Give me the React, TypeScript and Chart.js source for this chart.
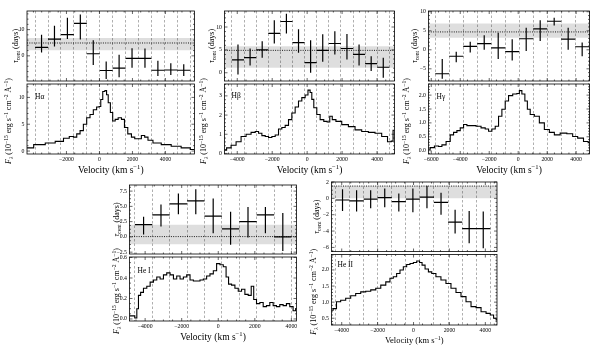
import React, { useEffect, useRef } from 'react';
import { Chart, registerables } from 'chart.js';

Chart.register(...registerables);

const SERIF = '"Liberation Serif", "DejaVu Serif", serif';
const CW = 600;
const CH = 352;

// ======================= DATA =======================
// velocity tick labels (km/s)
const velTicksHa = [-2000, 0, 2000, 4000];
const velTicksStd = [-4000, -2000, 0, 2000, 4000];
const velTicksHg = [-6000, -4000, -2000, 0, 2000, 4000];

// ---- H alpha ----
const haBinEdges = [-3900, -3117, -2333, -1550, -767, 17, 800, 1583, 2367, 3150, 3933, 4717, 5500];
const haLag = [3.2, 6.4, 8.1, 12.4, 0.8, -5.6, -4.7, -1.0, -1.0, -5.5, -5.4, -5.5];
const haLagUpper = [8.0, 11.5, 14.5, 15.8, 5.9, -2.2, 0.4, 2.9, 2.8, -1.9, -2.8, -3.2];
const haLagLower = [1.3, 3.6, 6.4, 6.2, -3.5, -8.8, -8.2, -4.5, -4.5, -7.7, -7.3, -7.7];
const haMeanLag = [2.1, 4.9, 6.8]; // lower, value, upper
const haLagTicks = [0, 10];
const haVel = [-4386, -3584, -2982, -2380, -1978, -1677, -1476, -1275, -1074, -873, -672, -472, -271, -70, 30, 130, 271, 392, 472, 592, 733, 873, 1034, 1235, 1436, 1596, 1837, 2038, 2239, 2440, 2640, 2841, 3042, 3444, 4046, 4649, 5251, 5753];
const haFlux = [0.6, 1.2, 1.5, 1.8, 2.4, 2.7, 2.6, 3.2, 3.8, 5.0, 6.2, 6.8, 7.7, 8.2, 8.3, 9.6, 11.1, 11.3, 10.5, 9.0, 7.2, 5.6, 5.9, 6.2, 5.9, 4.4, 3.2, 2.6, 2.3, 2.3, 2.9, 2.6, 2.0, 1.5, 1.2, 0.9, 0.6, 0.3];
const haFluxTicks = [0, 5, 10];

// ---- H beta ----
const hbBinEdges = [-4305, -3612, -2919, -2226, -1533, -840, -147, 546, 1239, 1932, 2625, 3318, 4011, 4704];
const hbLag = [2.8, 3.3, 5.0, 8.6, 11.2, 6.6, 2.2, 4.9, 6.4, 5.3, 4.0, 2.0, 1.2];
const hbLagUpper = [6.2, 5.3, 6.9, 11.5, 12.9, 9.5, 7.1, 8.4, 9.1, 8.5, 6.2, 3.6, 3.3];
const hbLagLower = [-0.4, 1.6, 3.3, 6.4, 8.6, 4.4, 0.0, 2.4, 4.0, 2.9, 1.6, 0.4, -1.1];
const hbMeanLag = [1.1, 4.9, 5.8];
const hbLagTicks = [0, 5, 10];
const hbVel = [-4724, -4495, -4210, -3924, -3638, -3352, -3067, -2876, -2686, -2495, -2305, -2114, -1924, -1733, -1543, -1352, -1162, -971, -781, -590, -400, -210, -19, 114, 229, 305, 457, 648, 838, 1067, 1219, 1371, 1505, 1790, 2171, 2552, 2933, 3314, 3695, 4076, 4457, 4743, 4876, 4960];
const hbFlux = [0.17, 0.29, 0.43, 0.61, 0.88, 1.0, 1.1, 1.14, 1.05, 0.93, 0.88, 0.83, 0.88, 0.96, 1.27, 1.35, 1.46, 1.76, 2.11, 2.42, 2.73, 2.91, 3.05, 3.3, 3.18, 2.82, 2.38, 2.03, 1.76, 1.67, 1.64, 1.94, 1.76, 1.67, 1.5, 1.4, 1.23, 1.14, 1.1, 1.05, 0.88, 0.61, 0.64, 1.2];
const hbFluxTicks = [0, 1, 2, 3];

// ---- H gamma ----
const hgBinEdges = [-5724, -4759, -3793, -2828, -1862, -897, 69, 1035, 2000, 2966, 3931, 4897];
const hgLag = [-6.3, -1.7, 0.9, 1.6, 0.5, -0.5, 2.9, 5.5, 7.5, 2.8, 0.8];
const hgLagUpper = [-2.4, -0.5, 2.1, 3.8, 4.5, 2.8, 5.8, 7.8, 8.4, 5.8, 1.9];
const hgLagLower = [-7.6, -3.3, -0.7, 0.0, -2.4, -2.8, -0.3, 2.3, 6.4, 0.0, -1.7];
const hgMeanLag = [3.2, 4.7, 6.9];
const hgLagTicks = [-5, 0, 5, 10];
const hgVel = [-6184, -5954, -5609, -5379, -5149, -4805, -4575, -4345, -4115, -3885, -3655, -3425, -3080, -2736, -2391, -2161, -1931, -1701, -1471, -1241, -1011, -782, -552, -207, 23, 138, 368, 552, 713, 943, 1287, 1632, 1977, 2322, 2667, 3126, 3586, 3931, 4276, 4736, 4920];
const hgFlux = [0.05, 0.11, 0.17, 0.15, 0.21, 0.33, 0.57, 0.66, 0.72, 0.82, 0.94, 0.9, 0.9, 0.88, 0.82, 0.78, 0.70, 0.78, 0.88, 1.24, 1.49, 1.79, 1.98, 2.04, 2.06, 2.16, 2.04, 1.79, 1.49, 1.30, 1.24, 1.0, 0.76, 0.66, 0.57, 0.63, 0.61, 0.51, 0.45, 0.33, 0.29];
const hgFluxTicks = [0, 0.5, 1.0, 1.5, 2.0];

// ---- He I ----
const he1BinEdges = [-4561, -3609, -2657, -1705, -753, 199, 1151, 2103, 3055, 4007];
const he1Lag = [2.0, 3.6, 5.4, 5.9, 3.4, 1.3, 2.5, 3.6, 0.0];
const he1LagUpper = [3.3, 5.3, 7.1, 7.8, 6.3, 4.1, 4.9, 4.9, 3.9];
const he1LagLower = [0.4, 1.7, 3.7, 3.7, 0.6, -1.3, -0.1, 0.6, -2.3];
const he1MeanLag = [-1.2, 0.05, 2.0];
const he1LagTicks = [-2.5, 0, 2.5, 5, 7.5];
const he1Vel = [-4855, -4637, -4490, -4419, -4310, -4183, -3999, -3819, -3633, -3453, -3273, -3088, -2908, -2728, -2542, -2362, -2182, -1997, -1817, -1637, -1451, -1271, -1091, -906, -726, -546, -360, -180, 0, 185, 366, 491, 638, 818, 1004, 1184, 1364, 1549, 1729, 1877, 2002, 2182, 2368, 2548, 2728, 2913, 3093, 3273, 3459, 3639, 3819, 4004, 4184, 4277];
const he1Flux = [0.03, 0.03, 0.01, 0.1, 0.23, 0.26, 0.3, 0.32, 0.36, 0.38, 0.41, 0.39, 0.43, 0.45, 0.43, 0.39, 0.42, 0.39, 0.41, 0.43, 0.38, 0.37, 0.37, 0.38, 0.39, 0.42, 0.44, 0.47, 0.54, 0.53, 0.51, 0.41, 0.34, 0.33, 0.3, 0.27, 0.29, 0.24, 0.23, 0.32, 0.19, 0.15, 0.16, 0.12, 0.13, 0.16, 0.13, 0.12, 0.14, 0.13, 0.15, 0.12, 0.08, 0.1];
const he1FluxTicks = [0, 0.2, 0.4, 0.6];

// ---- He II ----
const he2BinEdges = [-4348, -3564, -2780, -1996, -1212, -428, 356, 1140, 1924, 2708, 3492, 4276];
const he2Lag = [-0.2, -0.3, -0.1, 0.1, -0.4, -0.1, 0.15, -0.5, -2.9, -3.7, -3.7];
const he2LagUpper = [1.1, 1.0, 1.0, 1.2, 0.6, 1.2, 1.55, 0.7, -1.4, -1.55, -1.6];
const he2LagLower = [-1.55, -1.6, -1.2, -1.1, -1.6, -1.7, -1.2, -2.0, -4.3, -5.5, -6.1];
const he2MeanLag = [0.0, 1.5, 1.55];
const he2LagTicks = [-6, -4, -2, 0, 2];
const he2Vel = [-4572, -4385, -4199, -3920, -3641, -3362, -3082, -2803, -2524, -2244, -1965, -1686, -1406, -1220, -1034, -848, -661, -475, -289, -103, 84, 270, 400, 549, 736, 922, 1108, 1387, 1667, 1946, 2225, 2505, 2784, 3063, 3343, 3622, 3901, 4181, 4367, 4553, 4650];
const he2Flux = [0.75, 0.8, 1.01, 1.06, 1.12, 1.2, 1.27, 1.32, 1.34, 1.38, 1.43, 1.53, 1.63, 1.74, 1.79, 1.89, 2.0, 2.1, 2.17, 2.2, 2.23, 2.28, 2.23, 2.15, 2.03, 1.94, 1.89, 1.79, 1.69, 1.58, 1.43, 1.3, 1.17, 1.01, 0.86, 0.83, 0.7, 0.65, 0.6, 0.5, 0.45];
const he2FluxTicks = [0.5, 1.0, 1.5, 2.0];

// ======================= LINE DEFINITIONS =======================
const LINES = [
  { name: 'H\u03B1', velRange: [-4390, 5760], velTicks: velTicksHa, edges: haBinEdges, lag: haLag, lagUp: haLagUpper, lagLo: haLagLower, mean: haMeanLag, lagRange: [-9.6, 17.1], lagTicks: haLagTicks, lagMinor: 2, lagDec: 0, vel: haVel, flux: haFlux, fluxRange: [-0.55, 12.5], fluxTicks: haFluxTicks, fluxMinor: 1, fluxDec: 0 },
  { name: 'H\u03B2', velRange: [-4730, 5000], velTicks: velTicksStd, edges: hbBinEdges, lag: hbLag, lagUp: hbLagUpper, lagLo: hbLagLower, mean: hbMeanLag, lagRange: [-1.8, 13.5], lagTicks: hbLagTicks, lagMinor: 1, lagDec: 0, vel: hbVel, flux: hbFlux, fluxRange: [-0.03, 3.62], fluxTicks: hbFluxTicks, fluxMinor: 0.2, fluxDec: 0 },
  { name: 'H\u03B3', velRange: [-6190, 4920], velTicks: velTicksHg, edges: hgBinEdges, lag: hgLag, lagUp: hgLagUpper, lagLo: hgLagLower, mean: hgMeanLag, lagRange: [-8.2, 10.2], lagTicks: hgLagTicks, lagMinor: 1, lagDec: 0, vel: hgVel, flux: hgFlux, fluxRange: [-0.12, 2.4], fluxTicks: hgFluxTicks, fluxMinor: 0.1, fluxDec: 1 },
  { name: 'He I', velRange: [-4855, 4280], velTicks: velTicksStd, edges: he1BinEdges, lag: he1Lag, lagUp: he1LagUpper, lagLo: he1LagLower, mean: he1MeanLag, lagRange: [-2.8, 8.5], lagTicks: he1LagTicks, lagMinor: 0.625, lagDec: 1, vel: he1Vel, flux: he1Flux, fluxRange: [-0.02, 0.605], fluxTicks: he1FluxTicks, fluxMinor: 0.05, fluxDec: 1 },
  { name: 'He II', velRange: [-4570, 4650], velTicks: velTicksStd, edges: he2BinEdges, lag: he2Lag, lagUp: he2LagUpper, lagLo: he2LagLower, mean: he2MeanLag, lagRange: [-6.5, 2.0], lagTicks: he2LagTicks, lagMinor: 0.5, lagDec: 0, vel: he2Vel, flux: he2Flux, fluxRange: [0.29, 2.48], fluxTicks: he2FluxTicks, fluxMinor: 0.1, fluxDec: 1 },
];

// ======================= LAYOUT (positions / sizes) =======================
const LAYOUT = [
  { top: { l: 27, t: 11, r: 194.5, b: 81 }, bot: { l: 27, t: 84, r: 194.5, b: 154 }, topTitleX: 15, botTitleX: 8, labDx: 8, labDy: 13, xTitleSize: 9.5 },
  { top: { l: 224.5, t: 11, r: 394.5, b: 81 }, bot: { l: 224.5, t: 84, r: 394.5, b: 154 }, topTitleX: 211, botTitleX: 203, labDx: 7, labDy: 12, xTitleSize: 9.5 },
  { top: { l: 428.5, t: 11, r: 589.5, b: 81 }, bot: { l: 428.5, t: 84, r: 589.5, b: 154 }, topTitleX: 414, botTitleX: 406, labDx: 8, labDy: 13, xTitleSize: 9.5 },
  { top: { l: 129.5, t: 185, r: 296.5, b: 254 }, bot: { l: 129.5, t: 257, r: 296.5, b: 321 }, topTitleX: 116, botTitleX: 116, labDx: 8, labDy: 14, xTitleSize: 9.5 },
  { top: { l: 331.5, t: 182, r: 497, b: 251.5 }, bot: { l: 331.5, t: 254.5, r: 497, b: 325 }, topTitleX: 316, botTitleX: 313, labDx: 6, labDy: 11, xTitleSize: 8.5 },
];

// ======================= TEXT HELPERS =======================
type Seg = { t: string; it?: boolean; sub?: boolean; sup?: boolean };
const LAG_TITLE: Seg[] = [{ t: '\u03C4', it: true }, { t: 'cent', sub: true }, { t: ' (days)' }];
const FLUX_TITLE: Seg[] = [
  { t: 'F', it: true }, { t: '\u03BB', it: true, sub: true }, { t: ' (10' }, { t: '\u221215', sup: true },
  { t: ' erg s' }, { t: '\u22121', sup: true }, { t: ' cm' }, { t: '\u22122', sup: true },
  { t: ' \u00C5' }, { t: '\u22121', sup: true }, { t: ')' },
];
const VEL_TITLE: Seg[] = [{ t: 'Velocity (km s' }, { t: '\u22121', sup: true }, { t: ')' }];

function drawRich(ctx: CanvasRenderingContext2D, segs: Seg[], cx: number, cy: number, size: number, vertical: boolean) {
  ctx.save();
  ctx.translate(cx, cy);
  if (vertical) ctx.rotate(-Math.PI / 2);
  ctx.fillStyle = '#000';
  ctx.textBaseline = 'alphabetic';
  ctx.textAlign = 'left';
  const parts = segs.map((s) => {
    const sz = s.sub || s.sup ? size * 0.7 : size;
    const font = `${s.it ? 'italic ' : ''}${sz}px ${SERIF}`;
    ctx.font = font;
    return { s, font, w: ctx.measureText(s.t).width };
  });
  const total = parts.reduce((a, p) => a + p.w, 0);
  let x = -total / 2;
  const base = size * 0.33;
  for (const p of parts) {
    ctx.font = p.font;
    const dy = p.s.sub ? size * 0.25 : p.s.sup ? -size * 0.38 : 0;
    ctx.fillText(p.s.t, x, base + dy);
    x += p.w;
  }
  ctx.restore();
}

function fmt(v: number, dec: number) {
  const s = Math.abs(v).toFixed(dec);
  return v < -1e-9 ? '\u2212' + s : s;
}

function minorVals(min: number, max: number, step: number, majors: number[]) {
  const out: number[] = [];
  const i0 = Math.ceil(min / step - 1e-9);
  const i1 = Math.floor(max / step + 1e-9);
  for (let i = i0; i <= i1; i++) {
    const v = i * step;
    if (!majors.some((m) => Math.abs(m - v) < step * 1e-3)) out.push(v);
  }
  return out;
}

// ======================= CHART BUILDING =======================
interface Box { l: number; t: number; r: number; b: number }
interface Sub {
  box: Box; xr: number[]; yr: number[];
  xTicks: number[]; showX: boolean; xTitleSize: number;
  yTicks: number[]; yMinor: number; yDec: number;
  edges: number[]; datasets: any[];
  title: Seg[]; titleX: number; titleDy: number;
  label?: string; labDx?: number; labDy?: number;
}

function lagDatasets(L: any) {
  const bars: any[] = [];
  for (let i = 0; i < L.lag.length; i++) {
    const a = L.edges[i];
    const b = L.edges[i + 1];
    const c = (a + b) / 2;
    bars.push({ x: a, y: L.lag[i] }, { x: b, y: L.lag[i] }, { x: b, y: null });
    bars.push({ x: c, y: L.lagLo[i] }, { x: c, y: L.lagUp[i] }, { x: c, y: null });
  }
  const [x0, x1] = L.velRange;
  const common = { xAxisID: 'x', yAxisID: 'y', pointRadius: 0, tension: 0 };
  return [
    { ...common, data: [{ x: x0, y: L.mean[2] }, { x: x1, y: L.mean[2] }], borderWidth: 0, borderColor: 'rgba(0,0,0,0)', fill: false },
    { ...common, data: [{ x: x0, y: L.mean[0] }, { x: x1, y: L.mean[0] }], borderWidth: 0, borderColor: 'rgba(0,0,0,0)', fill: '-1', backgroundColor: 'rgba(0,0,0,0.13)' },
    { ...common, data: [{ x: x0, y: L.mean[1] }, { x: x1, y: L.mean[1] }], borderWidth: 0.9, borderDash: [1, 1.3], borderColor: '#000', fill: false },
    { ...common, data: bars, borderWidth: 1.2, borderColor: '#000', spanGaps: false, fill: false },
  ];
}

function fluxDatasets(L: any) {
  return [
    {
      xAxisID: 'x', yAxisID: 'y', pointRadius: 0,
      data: L.vel.map((v: number, i: number) => ({ x: v, y: L.flux[i] })),
      stepped: 'middle', borderColor: '#000', borderWidth: 1.1, fill: false,
    },
  ];
}

function decorPlugin(s: Sub) {
  return {
    id: 'decor',
    afterDraw(chart: any) {
      const ctx: CanvasRenderingContext2D = chart.ctx;
      const { left, right, top, bottom } = chart.chartArea;
      const xs = chart.scales.x;
      const ys = chart.scales.y;
      ctx.save();
      ctx.strokeStyle = '#000';
      ctx.lineWidth = 0.8;
      ctx.strokeRect(left, top, right - left, bottom - top);
      ctx.beginPath();
      const xMin = minorVals(s.xr[0], s.xr[1], 500, s.xTicks);
      const yMin = minorVals(s.yr[0], s.yr[1], s.yMinor, s.yTicks);
      const xt = (vals: number[], len: number) => {
        vals.forEach((v) => {
          const p = xs.getPixelForValue(v);
          ctx.moveTo(p, bottom); ctx.lineTo(p, bottom - len);
          ctx.moveTo(p, top); ctx.lineTo(p, top + len);
        });
      };
      const yt = (vals: number[], len: number) => {
        vals.forEach((v) => {
          const p = ys.getPixelForValue(v);
          ctx.moveTo(left, p); ctx.lineTo(left + len, p);
          ctx.moveTo(right, p); ctx.lineTo(right - len, p);
        });
      };
      xt(s.xTicks, 3); xt(xMin, 1.5);
      yt(s.yTicks, 3); yt(yMin, 1.5);
      ctx.lineWidth = 0.6;
      ctx.stroke();
      ctx.restore();

      drawRich(ctx, s.title, s.titleX, (top + bottom) / 2 + s.titleDy, 8, true);
      if (s.showX) drawRich(ctx, VEL_TITLE, (left + right) / 2, bottom + 15.5, s.xTitleSize, false);
      if (s.label) {
        ctx.save();
        ctx.fillStyle = '#000';
        ctx.font = `7.5px ${SERIF}`;
        ctx.textBaseline = 'middle';
        ctx.textAlign = 'left';
        ctx.fillText(s.label, left + (s.labDx || 7), top + (s.labDy || 12));
        ctx.restore();
      }
    },
  };
}

function buildConfig(s: Sub): any {
  const yW = 20;
  const xH = s.showX ? 12 : 0;
  const tickFont = { family: SERIF, size: 5.8 };
  return {
    type: 'line',
    data: { datasets: s.datasets },
    options: {
      responsive: false,
      animation: false,
      devicePixelRatio: 1,
      events: [],
      layout: { padding: { left: s.box.l - yW, top: s.box.t, right: CW - s.box.r, bottom: CH - s.box.b - xH } },
      plugins: { legend: { display: false }, tooltip: { enabled: false }, title: { display: false } },
      scales: {
        x: {
          type: 'linear', min: s.xr[0], max: s.xr[1], display: s.showX, position: 'bottom',
          grid: { display: false, drawTicks: false }, border: { display: false },
          afterBuildTicks: (sc: any) => { sc.ticks = s.xTicks.map((v) => ({ value: v })); },
          afterFit: (sc: any) => { sc.height = xH; },
          ticks: { autoSkip: false, maxRotation: 0, minRotation: 0, padding: 2, color: '#000', font: tickFont, callback: (v: any) => fmt(Number(v), 0) },
        },
        xe: {
          axis: 'x', type: 'linear', min: s.xr[0], max: s.xr[1], display: true, position: 'bottom',
          grid: { display: true, drawTicks: false, color: '#9a9a9a', lineWidth: 0.8, borderDash: [2.5, 2] },
          border: { display: false, dash: [2.5, 2] },
          ticks: { display: false },
          afterBuildTicks: (sc: any) => { sc.ticks = s.edges.map((v) => ({ value: v })); },
          afterFit: (sc: any) => { sc.height = 0; },
        },
        y: {
          type: 'linear', min: s.yr[0], max: s.yr[1], display: true, position: 'left',
          grid: { display: false, drawTicks: false }, border: { display: false },
          afterBuildTicks: (sc: any) => { sc.ticks = s.yTicks.map((v) => ({ value: v })); },
          afterFit: (sc: any) => { sc.width = yW; },
          ticks: { autoSkip: false, padding: 2.5, color: '#000', font: tickFont, callback: (v: any) => fmt(Number(v), s.yDec) },
        },
      },
    },
    plugins: [decorPlugin(s)],
  };
}

const SUBS: Sub[] = [];
LINES.forEach((L, i) => {
  const lay = LAYOUT[i];
  SUBS.push({
    box: lay.top, xr: L.velRange, yr: L.lagRange, xTicks: L.velTicks, showX: false, xTitleSize: lay.xTitleSize,
    yTicks: L.lagTicks, yMinor: L.lagMinor, yDec: L.lagDec, edges: L.edges, datasets: lagDatasets(L),
    title: LAG_TITLE, titleX: lay.topTitleX, titleDy: 0,
  });
  SUBS.push({
    box: lay.bot, xr: L.velRange, yr: L.fluxRange, xTicks: L.velTicks, showX: true, xTitleSize: lay.xTitleSize,
    yTicks: L.fluxTicks, yMinor: L.fluxMinor, yDec: L.fluxDec, edges: L.edges, datasets: fluxDatasets(L),
    title: FLUX_TITLE, titleX: lay.botTitleX, titleDy: 2,
    label: L.name, labDx: lay.labDx, labDy: lay.labDy,
  });
});

function Panel({ spec }: { spec: Sub }) {
  const ref = useRef<HTMLCanvasElement>(null);
  useEffect(() => {
    const chart = new Chart(ref.current as HTMLCanvasElement, buildConfig(spec));
    return () => chart.destroy();
  }, [spec]);
  return (
    <canvas
      ref={ref}
      width={CW}
      height={CH}
      style={{ position: 'absolute', left: 0, top: 0, width: CW, height: CH, display: 'block' }}
    />
  );
}

export default function App() {
  useEffect(() => {
    document.body.style.margin = '0';
  }, []);
  return (
    <div style={{ position: 'fixed', left: 0, top: 0, width: CW, height: CH, background: '#fff', overflow: 'hidden' }}>
      {SUBS.map((s, i) => (
        <Panel key={i} spec={s} />
      ))}
    </div>
  );
}
